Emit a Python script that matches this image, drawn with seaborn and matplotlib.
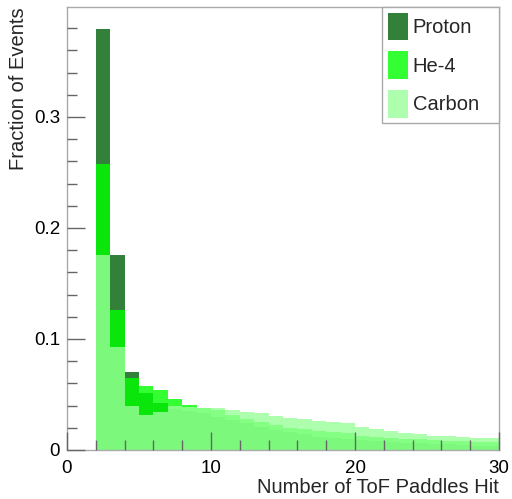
import numpy as np
import pandas as pd
import matplotlib
matplotlib.use("Agg")
import matplotlib.pyplot as plt
import seaborn as sns
from matplotlib.patches import Patch
from matplotlib.ticker import MultipleLocator

# ---- data (fraction of events per number of ToF paddles hit; bins of width 1) ----
n_hits = list(range(2, 30))
proton = [0.379, 0.176, 0.0706, 0.0516, 0.0426, 0.037, 0.035, 0.033, 0.030, 0.027,
          0.024, 0.021, 0.018, 0.016, 0.014, 0.012, 0.011, 0.010, 0.009, 0.008,
          0.007, 0.0065, 0.006, 0.0055, 0.005, 0.0045, 0.004, 0.004]
he4 = [0.258, 0.126, 0.065, 0.0577, 0.054, 0.046, 0.0405, 0.038, 0.036, 0.0315,
       0.028, 0.025, 0.0225, 0.020, 0.0185, 0.017, 0.016, 0.015, 0.013, 0.012,
       0.011, 0.010, 0.0095, 0.009, 0.0085, 0.008, 0.0075, 0.007]
carbon = [0.176, 0.0925, 0.0396, 0.0315, 0.0345, 0.040, 0.0387, 0.038, 0.038, 0.036,
          0.0345, 0.033, 0.031, 0.029, 0.028, 0.0265, 0.025, 0.024, 0.021, 0.019,
          0.017, 0.0157, 0.0143, 0.013, 0.0122, 0.0115, 0.011, 0.0105]
series_names = ["Proton", "He-4", "Carbon"]
x_ticks = [0, 10, 20, 30]
y_ticks = [0, 0.1, 0.2, 0.3]
y_tick_labels = ["0", "0.1", "0.2", "0.3"]

sns.set_theme(style="white")
plt.rcParams["font.family"] = ["Liberation Sans", "DejaVu Sans"]

fig = plt.figure(figsize=(5.12, 4.99), dpi=100)
ax = fig.add_axes([67 / 512, 1 - 450 / 499, 432 / 512, 443 / 499])

styles = [("#33803a", 1.0), ((0.0, 1.0, 0.0), 0.8), ((0.6, 1.0, 0.6), 0.8)]
bin_edges = list(range(0, 31))
handles = []
for name, vals, (col, a) in zip(series_names, [proton, he4, carbon], styles):
    df = pd.DataFrame({"hits": [h + 0.5 for h in n_hits], "frac": vals})
    sns.histplot(data=df, x="hits", weights="frac", bins=bin_edges, element="step",
                 fill=True, color=col, alpha=a, linewidth=0, ax=ax)
    handles.append(Patch(facecolor=col, alpha=a, edgecolor="none", label=name))

ax.set_xlim(0, 30)
ax.set_ylim(0, 0.399)
ax.set_xticks(x_ticks)
ax.set_xticklabels([str(t) for t in x_ticks])
ax.set_yticks(y_ticks)
ax.set_yticklabels(y_tick_labels)
ax.xaxis.set_minor_locator(MultipleLocator(2))
ax.yaxis.set_minor_locator(MultipleLocator(0.02))
ax.set_axisbelow(False)
ax.tick_params(axis="both", which="major", direction="in", length=13, width=1,
               color="#666666", labelsize=13.5, labelcolor="black",
               top=False, right=False, bottom=True, left=True)
ax.tick_params(axis="both", which="minor", direction="in", length=7, width=1,
               color="#666666", top=False, right=False, bottom=True, left=True)
ax.tick_params(axis="x", which="major", pad=7)
ax.tick_params(axis="y", which="major", pad=5)
for s in ax.spines.values():
    s.set_color("#aaaaaa")
    s.set_linewidth(1)
    s.set_visible(True)

ax.set_xlabel("Number of ToF Paddles Hit", fontsize=14.5, loc="right", labelpad=1)
ax.set_ylabel("Fraction of Events", fontsize=14.5, loc="top", labelpad=4)

leg = ax.legend(handles=handles, loc="upper left",
                bbox_to_anchor=((382 - 67) / 432, 0.0, (499 - 382) / 432, 1.0),
                mode="expand", borderaxespad=0, fancybox=False, framealpha=1,
                edgecolor="#aaaaaa", fontsize=14.5, handlelength=1.0,
                handleheight=1.71, handletextpad=0.25, labelspacing=0.57,
                borderpad=0.28)
leg.get_frame().set_linewidth(1)

fig.savefig("out.png", dpi=100)
